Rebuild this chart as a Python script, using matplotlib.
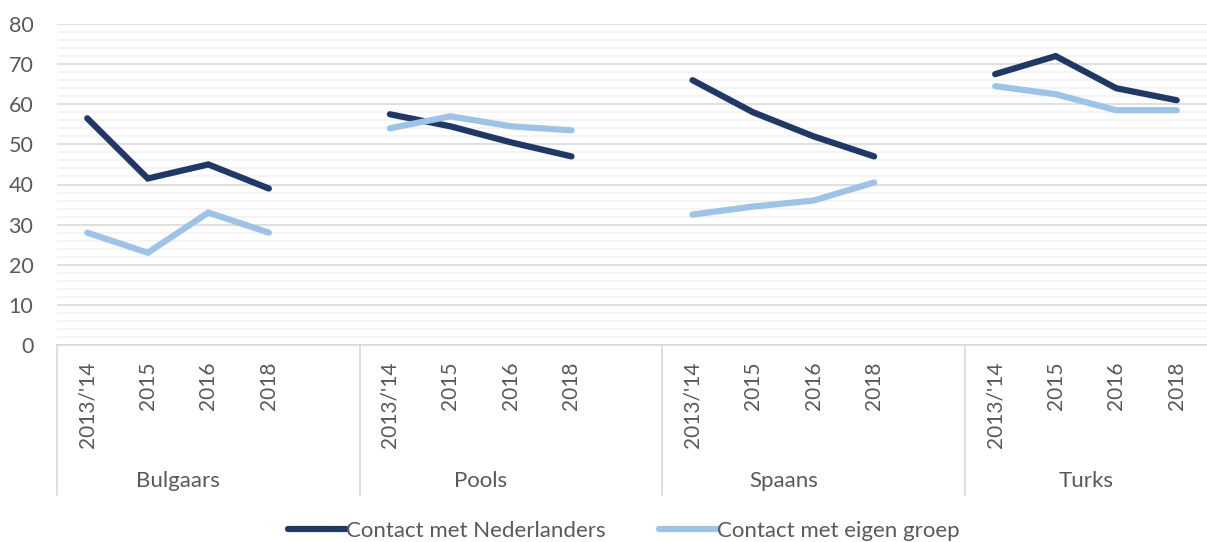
import numpy as np
import matplotlib.pyplot as plt
from matplotlib.transforms import blended_transform_factory
from matplotlib.lines import Line2D

groups = ["Bulgaars", "Pools", "Spaans", "Turks"]
years = ["2013/'14", "2015", "2016", "2018"]

# per group, 4 years
nederlanders = [
    [56.5, 41.5, 45.0, 39.0],
    [57.5, 54.5, 50.5, 47.0],
    [66.0, 58.0, 52.0, 47.0],
    [67.5, 72.0, 64.0, 61.0],
]
eigen_groep = [
    [28.0, 23.0, 33.0, 28.0],
    [54.0, 57.0, 54.5, 53.5],
    [32.5, 34.5, 36.0, 40.5],
    [64.5, 62.5, 58.5, 58.5],
]

dark = "#203864"
light = "#9dc3e6"
txt = "#595959"
plt.rcParams['font.family'] = ['Lato', 'DejaVu Sans']

fig = plt.figure(figsize=(12.07, 5.42), dpi=100)
ax = fig.add_axes([57 / 1207, (542 - 345) / 542, 1150 / 1207, 321 / 542])

slot = 5
for g in range(len(groups)):
    xs = np.arange(4) + g * slot
    ax.plot(xs, nederlanders[g], color=dark, lw=4.5, solid_capstyle='round', solid_joinstyle='miter', zorder=3)
    ax.plot(xs, eigen_groep[g], color=light, lw=4.5, solid_capstyle='round', solid_joinstyle='miter', zorder=3)

ax.set_xlim(-0.5, 18.5)
ax.set_ylim(0, 80)
ax.set_yticks(np.arange(0, 81, 10))
ax.set_yticks(np.arange(0, 81, 2), minor=True)
ax.grid(axis='y', which='major', color='#d9d9d9', lw=1.2)
ax.grid(axis='y', which='minor', color='#f2f2f2', lw=1.2)
ax.set_axisbelow(True)
for s in ['top', 'right', 'left']:
    ax.spines[s].set_visible(False)
ax.spines['bottom'].set_color('#d9d9d9')
ax.spines['bottom'].set_linewidth(1.2)

ax.tick_params(axis='y', which='both', length=0, labelsize=15.5, labelcolor=txt, pad=17)

xticks = []
xlabels = []
for g in range(len(groups)):
    for i, y in enumerate(years):
        xticks.append(g * slot + i)
        xlabels.append(y)
ax.set_xticks(xticks)
ax.set_xticklabels(xlabels, rotation=90, fontsize=15, color=txt)
ax.tick_params(axis='x', length=0, pad=12)

trans = blended_transform_factory(ax.transData, ax.transAxes)
for g in range(len(groups)):
    ax.plot([g * slot - 0.5, g * slot - 0.5], [0, -150 / 321], transform=trans,
            color='#d9d9d9', lw=1.2, clip_on=False)
    center = g * slot + 1.5
    ax.text(center, -136 / 321, groups[g], transform=trans, ha='center', va='center',
            fontsize=16, color=txt)

handles = [Line2D([], [], color=dark, lw=4.5, solid_capstyle='round'),
           Line2D([], [], color=light, lw=4.5, solid_capstyle='round')]
fig.legend(handles, ["Contact met Nederlanders", "Contact met eigen groep"],
           loc='center', bbox_to_anchor=(0.517, 11 / 542), ncol=2, frameon=False,
           fontsize=16, labelcolor=txt, handlelength=2.6, handletextpad=0.0,
           columnspacing=2.4)

fig.savefig("out.png", dpi=100)
